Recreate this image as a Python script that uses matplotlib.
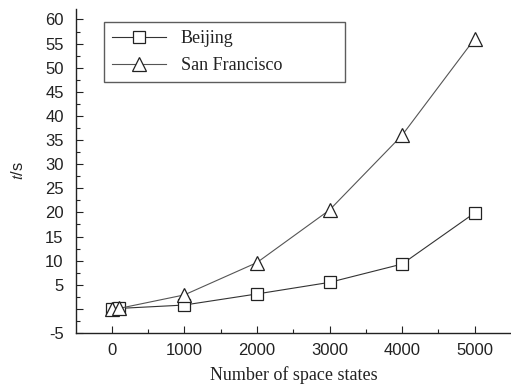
import numpy as np
import matplotlib.pyplot as plt
from matplotlib.ticker import MultipleLocator, FixedLocator

plt.rcParams['mathtext.fontset'] = 'stix'

# running time (s) against number of space states
states = [0, 100, 1000, 2000, 3000, 4000, 5000]
beijing = [0.0, 0.1, 0.8, 3.1, 5.5, 9.3, 19.9]
san_francisco = [0.0, 0.1, 2.9, 9.6, 20.5, 36.0, 56.0]

y_ticks = [-5, 0, 5, 10, 15, 20, 25, 30, 35, 40, 45, 50, 55, 60]
y_labels = ['-5', '', '5', '10', '15', '20', '25', '30', '35', '40', '45', '50', '55', '60']

fig = plt.figure(figsize=(5.11, 3.85), dpi=100)
ax = fig.add_axes([0.149, 0.135, 0.851, 0.842])

ax.plot(states, beijing, color='#333333', lw=0.8, marker='s', ms=8,
        mfc='white', mec='#222222', mew=0.9, label='Beijing')
ax.plot(states, san_francisco, color='#555555', lw=0.8, marker='^', ms=10.5,
        mfc='white', mec='#222222', mew=0.9, label='San Francisco')

ax.set_xlim(-490, 5500)
ax.set_ylim(-5, 62.2)
ax.spines['top'].set_visible(False)
ax.spines['right'].set_visible(False)
for s in ['left', 'bottom']:
    ax.spines[s].set_linewidth(1.0)
    ax.spines[s].set_color('#222222')

ax.xaxis.set_major_locator(FixedLocator([0, 1000, 2000, 3000, 4000, 5000]))
ax.xaxis.set_minor_locator(FixedLocator([500, 1500, 2500, 3500, 4500]))
ax.yaxis.set_major_locator(FixedLocator(y_ticks))
ax.set_yticklabels(y_labels)
ax.yaxis.set_minor_locator(MultipleLocator(2.5))
ax.tick_params(which='both', direction='in', labelsize=12, width=0.8,
               color='#222222', labelcolor='#222222')
ax.tick_params(which='major', length=5)
ax.tick_params(which='minor', length=3)
ax.tick_params(axis='y', pad=9)
ax.tick_params(axis='x', pad=7)
for lab in ax.get_xticklabels() + ax.get_yticklabels():
    lab.set_family('Liberation Sans')

ax.set_xlabel('Number of space states', family='Liberation Serif', fontsize=13,
              labelpad=6, color='#222222')
ax.set_ylabel('$t$/s', family='Liberation Sans', fontsize=12, labelpad=14, color='#222222')

leg = ax.legend(loc='upper left', bbox_to_anchor=(0.064, 0.0, 0.554, 0.96), mode='expand',
                frameon=True, fancybox=False, edgecolor='#333333',
                prop={'family': 'Liberation Serif', 'size': 13},
                handlelength=3.0, borderpad=0.45, labelspacing=0.55, borderaxespad=0)
leg.get_frame().set_linewidth(1.0)
for t in leg.get_texts():
    t.set_color('#222222')

fig.savefig('out.png', dpi=100)
